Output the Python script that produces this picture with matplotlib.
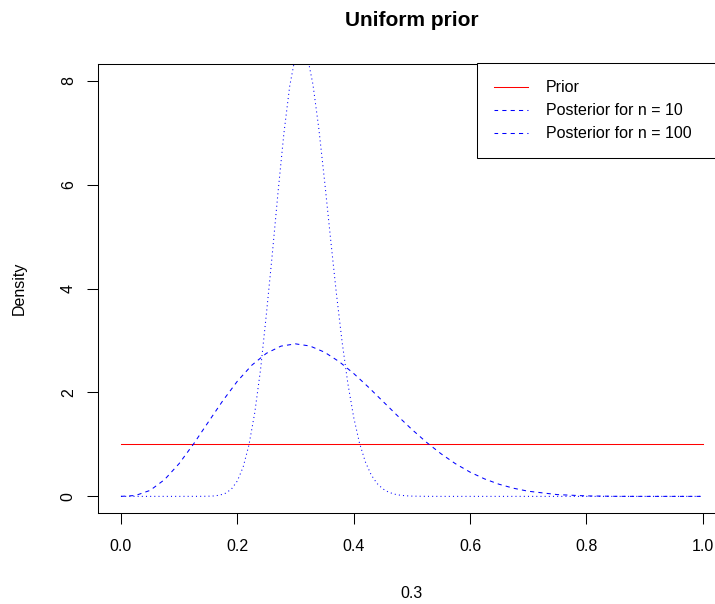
import matplotlib
matplotlib.use('Agg')
import matplotlib.pyplot as plt
from matplotlib.lines import Line2D

plt.rcParams['font.family'] = ['Liberation Sans', 'DejaVu Sans']

# prior (flat)
prior_x = [0.0, 1.0]
prior_y = [1.0, 1.0]

# posterior for n = 10
post10_x = [0.0, 0.025, 0.05, 0.075, 0.1, 0.125, 0.15, 0.175, 0.2, 0.225,
            0.25, 0.275, 0.3, 0.325, 0.35, 0.375, 0.4, 0.425, 0.45, 0.475,
            0.5, 0.525, 0.55, 0.575, 0.6, 0.625, 0.65, 0.675, 0.7, 0.75,
            0.8, 0.85, 0.9, 0.95, 1.0]
post10_y = [0.0, 0.017, 0.115, 0.323, 0.631, 1.012, 1.428, 1.840, 2.215, 2.525,
            2.753, 2.891, 2.935, 2.893, 2.774, 2.593, 2.365, 2.106, 1.831, 1.555,
            1.289, 1.042, 0.821, 0.628, 0.467, 0.336, 0.233, 0.156, 0.099, 0.034,
            0.009, 0.001, 0.0, 0.0, 0.0]

# posterior for n = 100
post100_x = [0.0, 0.1, 0.14, 0.15, 0.16, 0.17, 0.18, 0.19, 0.2, 0.21,
             0.22, 0.23, 0.24, 0.25, 0.26, 0.27, 0.28, 0.29, 0.3, 0.31,
             0.32, 0.33, 0.34, 0.35, 0.36, 0.37, 0.38, 0.39, 0.4, 0.41,
             0.42, 0.43, 0.44, 0.45, 0.46, 0.47, 0.48, 0.49, 0.5, 0.52,
             0.55, 0.6, 1.0]
post100_y = [0.0, 0.0, 0.001, 0.003, 0.008, 0.024, 0.062, 0.142, 0.296, 0.564,
             0.990, 1.612, 2.447, 3.513, 4.647, 5.855, 6.979, 7.892, 8.482, 8.686,
             8.488, 7.927, 7.085, 6.069, 4.987, 3.933, 2.981, 2.172, 1.522, 1.026,
             0.666, 0.416, 0.250, 0.145, 0.081, 0.043, 0.022, 0.011, 0.005, 0.001,
             0.0, 0.0, 0.0]

x_ticks = [0.0, 0.2, 0.4, 0.6, 0.8, 1.0]
x_tick_labels = ['0.0', '0.2', '0.4', '0.6', '0.8', '1.0']
y_ticks = [0, 2, 4, 6, 8]
y_tick_labels = ['0', '2', '4', '6', '8']
legend_labels = ['Prior', 'Posterior for n = 10', 'Posterior for n = 100']

W, H = 715, 604
fig = plt.figure(figsize=(W / 100, H / 100), dpi=100)
# plot region (right edge runs past the image, as in the source)
left, right, top, bottom = 97.7, 726.0, 64.0, 513.0
ax = fig.add_axes([left / W, 1 - bottom / H, (right - left) / W, (bottom - top) / H])

lw = 0.75
ax.plot(prior_x, prior_y, color='red', lw=lw)
ax.plot(post10_x, post10_y, color='blue', lw=lw, linestyle=(0, (4, 4)))
ax.plot(post100_x, post100_y, color='blue', lw=lw, linestyle=(0, (1, 3)))

ax.set_xlim(-0.04, 1.04)
ax.set_ylim(-0.32, 8.32)

for s in ax.spines.values():
    s.set_linewidth(lw)
    s.set_color('black')

ax.set_xticks(x_ticks, labels=x_tick_labels)
ax.set_yticks(y_ticks, labels=y_tick_labels)
ax.tick_params(axis='both', direction='out', length=7.9, width=lw,
               labelsize=11.5, color='black')
ax.tick_params(axis='x', pad=10.6)
ax.tick_params(axis='y', pad=7.9)
for lab in ax.get_yticklabels():
    lab.set_rotation(90)
    lab.set_va('center')

ax.set_xlabel('0.3', fontsize=11.5)
ax.xaxis.label.set_va('center')
ax.xaxis.set_label_coords(0.5, (bottom - 594) / (bottom - top))
ax.set_ylabel('Density', fontsize=11.5)
ax.yaxis.label.set_va('center')
ax.yaxis.set_label_coords((19.5 - left) / (right - left), 0.5)

fig.text((left + right) / 2 / W, 1 - 21 / H, 'Uniform prior',
         ha='center', va='center', fontsize=15, fontweight='bold')

handles = [
    Line2D([], [], color='red', lw=lw),
    Line2D([], [], color='blue', lw=lw, linestyle=(0.5, (4, 4))),
    Line2D([], [], color='blue', lw=lw, linestyle=(0.5, (4, 4))),
]
leg = ax.legend(handles, legend_labels, loc='upper left',
                bbox_to_anchor=(477 / W, 1 - 63.3 / H, (726 - 477) / W, 0),
                bbox_transform=fig.transFigure, mode='expand',
                borderaxespad=0, borderpad=1.07, fontsize=11.5,
                handlelength=2.125, handletextpad=1.125, labelspacing=0.5,
                fancybox=False, framealpha=1, edgecolor='black')
leg.get_frame().set_linewidth(lw)

plt.savefig('out.png', dpi=100)
